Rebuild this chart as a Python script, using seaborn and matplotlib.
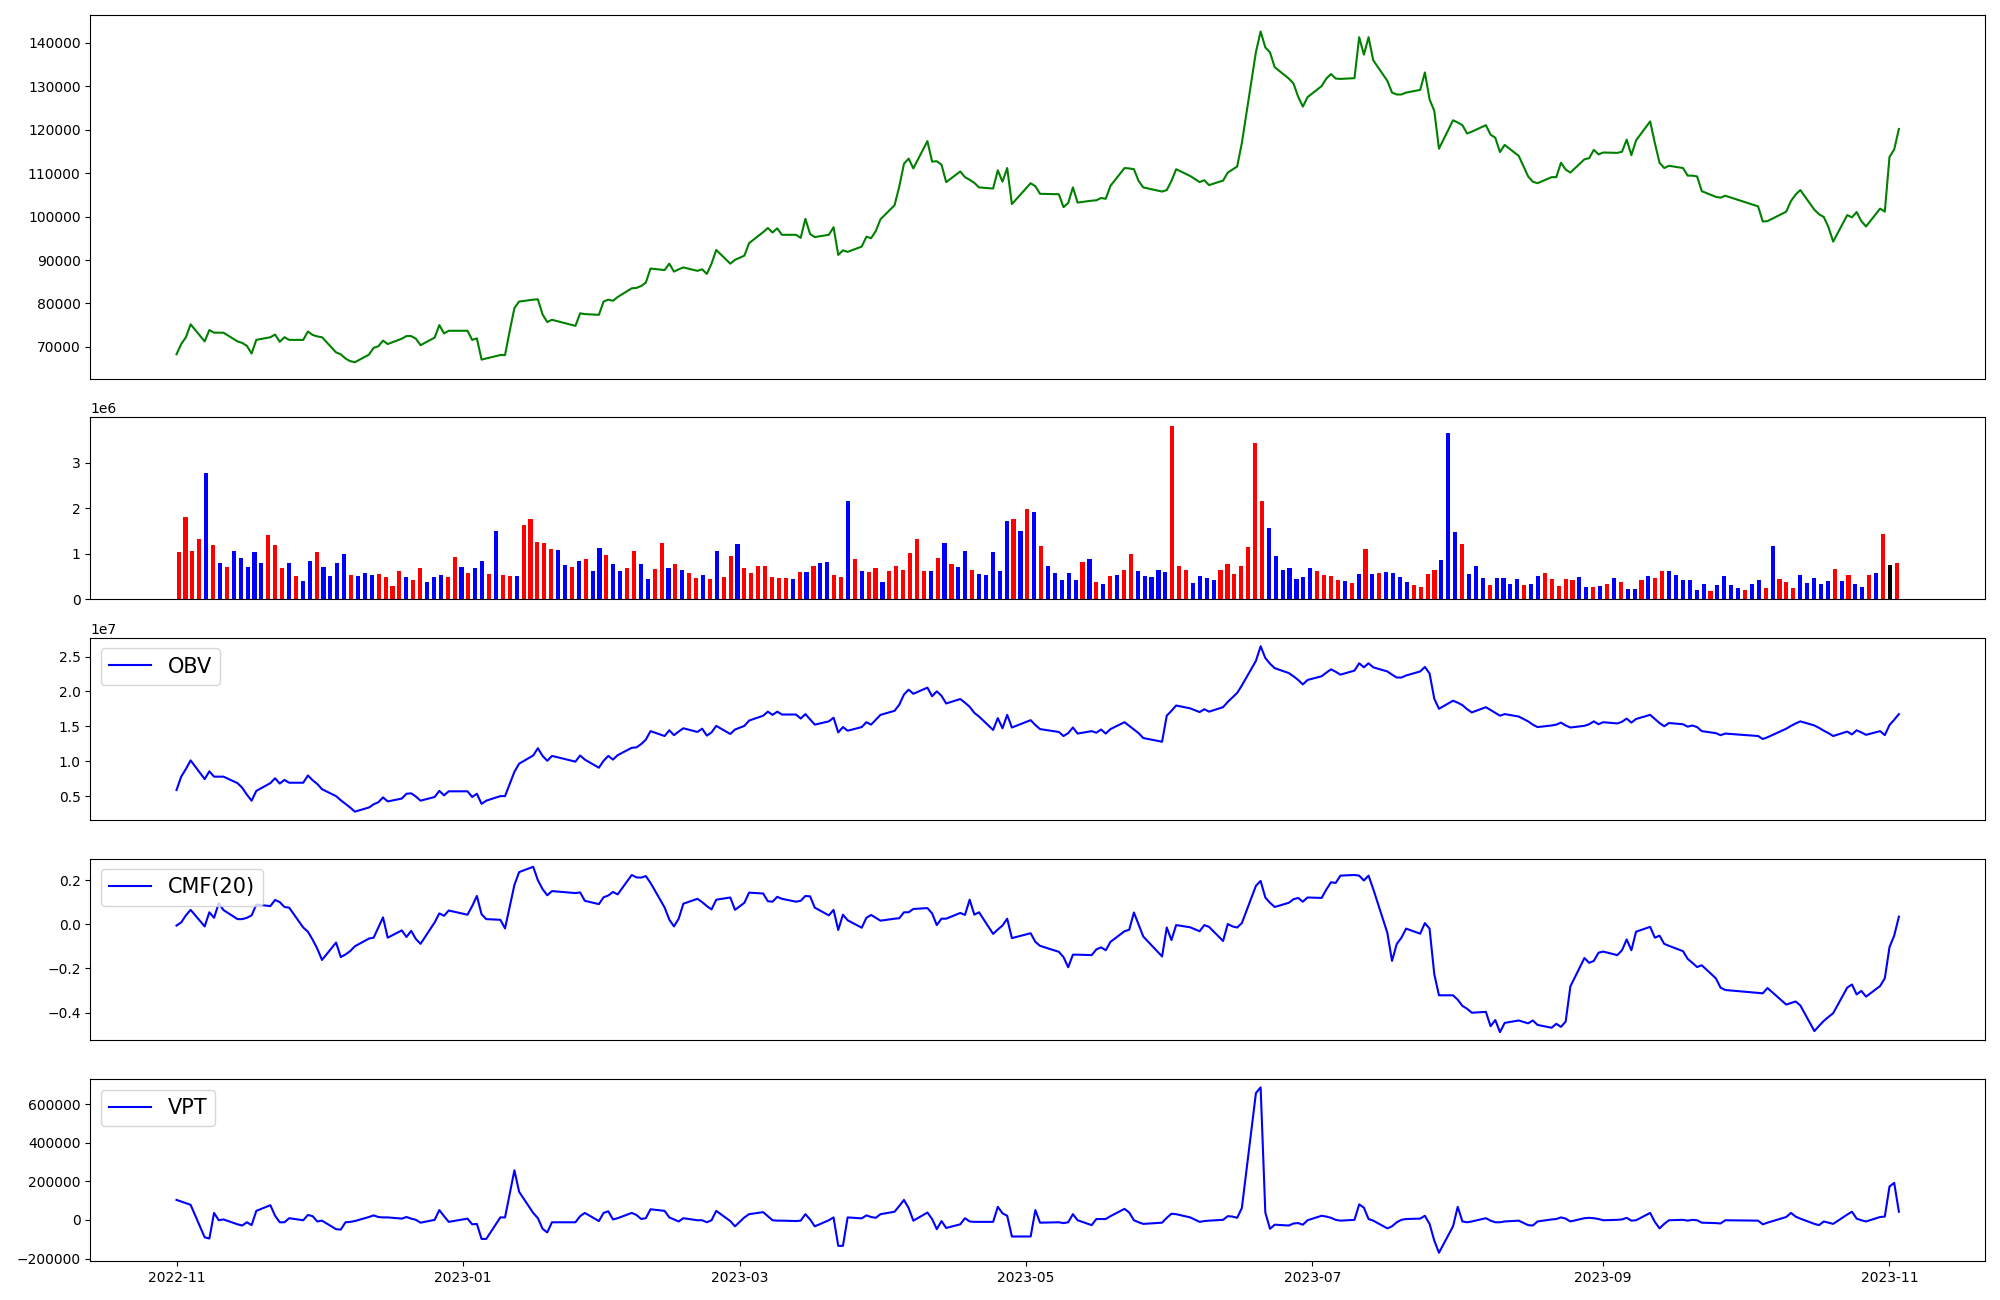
import numpy as np
import pandas as pd
import matplotlib
matplotlib.use("Agg")
import matplotlib.pyplot as plt
import seaborn as sns

# ---- trading calendar (KRX) ----
holidays = ["2022-12-30", "2023-01-23", "2023-01-24", "2023-03-01", "2023-05-01",
            "2023-05-05", "2023-05-29", "2023-06-06", "2023-08-15", "2023-09-28",
            "2023-09-29", "2023-10-02", "2023-10-03", "2023-10-09"]
dates = pd.bdate_range("2022-11-01", "2023-11-03", freq="C", holidays=holidays)

# ---- close price ----
price = [68300, 70650, 72220, 75190, 71260, 73880, 73270, 73270, 73270, 71260,
         70910, 70220, 68470, 71610, 72220, 72830, 71170, 72220, 71610, 71610,
         73530, 72750, 72400, 72220, 68730, 68290, 67330, 66720, 66460, 68210,
         69780, 70130, 71440, 70650, 71880, 72490, 72490, 71880, 70390, 72140,
         75020, 73100, 73710, 73710, 71610, 71960, 67070, 67330, 68120, 68120,
         73710, 78950, 80440, 80870, 80960, 77470, 75720, 76240, 74840, 77730,
         77550, 77380, 80440, 80870, 80610, 81480, 83490, 83580, 84020, 84800,
         88040, 87690, 89170, 87340, 87860, 88300, 87510, 87860, 86810, 89170,
         92320, 89170, 90050, 91010, 93890, 96420, 97380, 96340, 97300, 95810,
         95810, 95110, 99480, 95990, 95290, 95810, 97560, 91180, 92230, 91880,
         93100, 95370, 95030, 96680, 99390, 102620, 106900, 112150, 113370, 111100,
         117390, 112670, 112760, 111970, 107950, 110400, 109090, 108480, 107780, 106730,
         106470, 110660, 108040, 111190, 102890, 107690, 106990, 105250, 105160, 102190,
         103150, 106730, 103240, 103670, 103760, 104290, 104110, 107080, 111190, 111100,
         110920, 108220, 106730, 105770, 106120, 108220, 110920, 109350, 107950, 108390,
         107260, 108300, 110140, 110840, 111540, 116950, 137920, 142640, 138970, 137830,
         134420, 131800, 130670, 127610, 125340, 127520, 130060, 131800, 132850, 131800,
         131720, 131890, 141330, 137310, 141330, 136000, 131280, 128570, 128130, 128130,
         128570, 129180, 133200, 127000, 124380, 115640, 122190, 121670, 121060, 119140,
         119570, 121060, 118870, 118180, 114860, 116520, 113980, 109260, 108040, 107690,
         109090, 109090, 112410, 110840, 110140, 113200, 113460, 115380, 114330, 114770,
         114680, 114940, 117730, 114160, 117560, 121930, 116950, 112410, 111190, 111710,
         111190, 109440, 109440, 109260, 105860, 104550, 104370, 104810, 102360, 98870,
         98960, 101140, 103590, 105070, 106120, 101580, 100530, 99920, 97560, 94240,
         100350, 99830, 101050, 98960, 97730, 101840, 101140, 113720, 115470, 120190]

# ---- volume (millions) ----
volume_m = [1.041, 1.806, 1.057, 1.324, 2.771, 1.191, 0.800, 0.708, 1.057, 0.908,
            0.708, 1.041, 0.800, 1.407, 1.191, 0.691, 0.800, 0.508, 0.400, 0.841,
            1.041, 0.708, 0.508, 0.800, 0.991, 0.533, 0.508, 0.575, 0.533, 0.558,
            0.492, 0.292, 0.625, 0.492, 0.425, 0.691, 0.384, 0.492, 0.533, 0.492,
            0.925, 0.708, 0.575, 0.691, 0.841, 0.558, 1.499, 0.533, 0.517, 0.517,
            1.631, 1.765, 1.257, 1.232, 1.107, 1.082, 0.750, 0.708, 0.841, 0.883,
            0.625, 1.124, 0.974, 0.775, 0.625, 0.691, 1.057, 0.775, 0.450, 0.666,
            1.232, 0.691, 0.775, 0.641, 0.575, 0.467, 0.533, 0.450, 1.057, 0.492,
            0.949, 1.215, 0.691, 0.575, 0.733, 0.733, 0.492, 0.467, 0.467, 0.450,
            0.600, 0.600, 0.733, 0.800, 0.816, 0.533, 0.492, 2.155, 0.883, 0.625,
            0.600, 0.691, 0.384, 0.625, 0.733, 0.641, 1.016, 1.324, 0.625, 0.625,
            0.908, 1.232, 0.775, 0.708, 1.057, 0.641, 0.558, 0.533, 1.041, 0.625,
            1.715, 1.765, 1.498, 1.981, 1.914, 1.166, 0.733, 0.575, 0.425, 0.575,
            0.425, 0.816, 0.883, 0.384, 0.334, 0.508, 0.533, 0.641, 0.991, 0.625,
            0.508, 0.492, 0.641, 0.600, 3.802, 0.733, 0.641, 0.359, 0.508, 0.467,
            0.425, 0.641, 0.775, 0.558, 0.733, 1.149, 3.428, 2.155, 1.565, 0.949,
            0.641, 0.691, 0.450, 0.492, 0.691, 0.625, 0.533, 0.508, 0.425, 0.400,
            0.359, 0.558, 1.107, 0.558, 0.575, 0.600, 0.575, 0.492, 0.384, 0.317,
            0.267, 0.558, 0.641, 0.866, 3.645, 1.473, 1.215, 0.558, 0.733, 0.467,
            0.317, 0.467, 0.467, 0.334, 0.450, 0.317, 0.334, 0.508, 0.575, 0.450,
            0.292, 0.450, 0.425, 0.492, 0.267, 0.267, 0.292, 0.334, 0.467, 0.384,
            0.225, 0.225, 0.425, 0.508, 0.467, 0.625, 0.625, 0.533, 0.425, 0.425,
            0.209, 0.334, 0.184, 0.317, 0.508, 0.317, 0.250, 0.209, 0.334, 0.425,
            0.250, 1.166, 0.450, 0.384, 0.250, 0.533, 0.359, 0.467, 0.334, 0.400,
            0.666, 0.400, 0.533, 0.334, 0.267, 0.533, 0.575, 1.432, 0.750, 0.800]

# bar colour codes: R = up, B = down, K = unchanged
bar_codes = ("RRRRBRBRBB" "BBBRRRBRBB" "RBBBBRBBBR" "RRRBRRBBBR" "RBRBBRBRRB"
             "RRRRRBBRBR" "BBRBBRRBBR" "RBRBRRBRBR" "RBRRRRRRRB" "RBRBBRRBRB"
             "RRBRRRRRRB" "RBRBBRBBBB" "BRBRBRBBBB" "BRBRBRBRRB" "BBBBRRRBBB"
             "BRRRRRRRBB" "BBBBBRRRRB" "RBRBRBBBBR" "RRRBBBRBBB" "RBBBBRBBRR"
             "RRRBBRBRBR" "BBRBRRBBBB" "BBRBBBBRBB" "RBRRRBBBBB" "RBRBBRBRKR")

# ---- indicators ----
obv_e7 = [0.587, 0.779, 0.889, 1.012, 0.744, 0.855, 0.779, 0.779, 0.779, 0.686,
          0.620, 0.520, 0.435, 0.575, 0.686, 0.756, 0.680, 0.732, 0.692, 0.692,
          0.796, 0.727, 0.674, 0.599, 0.500, 0.441, 0.389, 0.337, 0.278, 0.337,
          0.383, 0.412, 0.482, 0.424, 0.465, 0.534, 0.540, 0.494, 0.435, 0.488,
          0.575, 0.511, 0.569, 0.569, 0.488, 0.534, 0.389, 0.435, 0.500, 0.500,
          0.674, 0.849, 0.965, 1.082, 1.186, 1.076, 1.006, 1.076, 0.994, 1.082,
          1.023, 0.907, 1.006, 1.076, 1.023, 1.087, 1.192, 1.198, 1.245, 1.309,
          1.431, 1.361, 1.443, 1.373, 1.425, 1.472, 1.419, 1.466, 1.367, 1.413,
          1.506, 1.390, 1.454, 1.506, 1.582, 1.652, 1.710, 1.664, 1.710, 1.669,
          1.669, 1.611, 1.675, 1.600, 1.524, 1.571, 1.623, 1.413, 1.489, 1.437,
          1.489, 1.559, 1.524, 1.594, 1.664, 1.722, 1.809, 1.955, 2.025, 1.966,
          2.054, 1.931, 2.001, 1.937, 1.827, 1.891, 1.838, 1.780, 1.693, 1.640,
          1.448, 1.617, 1.472, 1.664, 1.483, 1.588, 1.518, 1.460, 1.419, 1.361,
          1.402, 1.483, 1.396, 1.431, 1.408, 1.454, 1.396, 1.460, 1.559, 1.507,
          1.454, 1.402, 1.332, 1.279, 1.652, 1.722, 1.798, 1.757, 1.704, 1.745,
          1.710, 1.774, 1.850, 1.914, 1.978, 2.085, 2.438, 2.647, 2.479, 2.397,
          2.333, 2.263, 2.217, 2.164, 2.100, 2.164, 2.217, 2.269, 2.316, 2.281,
          2.240, 2.298, 2.403, 2.345, 2.403, 2.345, 2.286, 2.240, 2.199, 2.199,
          2.228, 2.286, 2.350, 2.257, 1.896, 1.751, 1.867, 1.838, 1.803, 1.745,
          1.699, 1.774, 1.734, 1.693, 1.652, 1.675, 1.640, 1.571, 1.524, 1.489,
          1.512, 1.524, 1.553, 1.512, 1.483, 1.507, 1.530, 1.571, 1.530, 1.559,
          1.541, 1.565, 1.611, 1.553, 1.605, 1.664, 1.605, 1.547, 1.501, 1.547,
          1.530, 1.495, 1.512, 1.489, 1.431, 1.402, 1.373, 1.396, 1.361, 1.318,
          1.343, 1.466, 1.506, 1.541, 1.571, 1.512, 1.477, 1.437, 1.402, 1.361,
          1.425, 1.384, 1.443, 1.413, 1.378, 1.431, 1.373, 1.518, 1.594, 1.675]

cmf20 = [-0.006, 0.008, 0.040, 0.065, -0.010, 0.054, 0.029, 0.095, 0.064, 0.023,
         0.023, 0.029, 0.040, 0.089, 0.082, 0.110, 0.100, 0.078, 0.075, -0.015,
         -0.034, -0.070, -0.111, -0.162, -0.083, -0.149, -0.137, -0.122, -0.100, -0.065,
         -0.061, -0.015, 0.031, -0.061, -0.028, -0.058, -0.030, -0.067, -0.089, 0.008,
         0.049, 0.038, 0.062, 0.043, 0.082, 0.128, 0.045, 0.023, 0.020, -0.019,
         0.080, 0.178, 0.236, 0.260, 0.199, 0.159, 0.131, 0.150, 0.141, 0.144,
         0.106, 0.091, 0.122, 0.130, 0.146, 0.135, 0.223, 0.212, 0.211, 0.218,
         0.187, 0.076, 0.021, -0.010, 0.025, 0.093, 0.115, 0.100, 0.082, 0.067,
         0.111, 0.121, 0.065, 0.097, 0.143, 0.139, 0.104, 0.102, 0.124, 0.115,
         0.102, 0.106, 0.128, 0.126, 0.075, 0.040, 0.065, -0.026, 0.043, 0.018,
         -0.016, 0.029, 0.042, 0.029, 0.016, 0.025, 0.027, 0.054, 0.054, 0.069,
         0.073, 0.049, -0.004, 0.025, 0.025, 0.051, 0.042, 0.111, 0.043, 0.054,
         -0.044, -0.024, -0.006, 0.025, -0.063, -0.041, -0.080, -0.098, -0.125, -0.149,
         -0.195, -0.138, -0.138, -0.140, -0.114, -0.105, -0.118, -0.080, -0.032, -0.025,
         0.053, -0.001, -0.056, -0.146, -0.015, -0.072, -0.004, -0.014, -0.032, -0.004,
         -0.012, -0.076, 0.001, -0.010, -0.015, 0.005, 0.174, 0.196, 0.121, 0.097,
         0.078, 0.097, 0.113, 0.119, 0.102, 0.121, 0.119, 0.157, 0.190, 0.187,
         0.220, 0.223, 0.220, 0.198, 0.220, 0.159, -0.039, -0.166, -0.090, -0.061,
         -0.020, -0.043, 0.005, -0.020, -0.226, -0.322, -0.322, -0.342, -0.370, -0.383,
         -0.401, -0.397, -0.462, -0.434, -0.489, -0.447, -0.436, -0.449, -0.436, -0.456,
         -0.469, -0.451, -0.465, -0.441, -0.282, -0.153, -0.175, -0.166, -0.129, -0.124,
         -0.140, -0.118, -0.069, -0.118, -0.034, -0.012, -0.061, -0.052, -0.089, -0.098,
         -0.122, -0.157, -0.175, -0.194, -0.186, -0.245, -0.287, -0.298, -0.311, -0.313,
         -0.289, -0.364, -0.357, -0.350, -0.368, -0.484, -0.460, -0.438, -0.420, -0.403,
         -0.287, -0.273, -0.318, -0.302, -0.328, -0.280, -0.245, -0.104, -0.052, 0.034]

vpt = [103700, 95300, 86900, 78400, -90000, -96200, 36300, -1600, 2600, -22600,
       -28900, -12100, -26900, 46900, 76300, 21600, -12100, -12100, 9000, -1600,
       25800, 19500, -7900, -3700, -47900, -50000, -12100, -10000, -5800, 15200,
       23600, 15200, 13100, 13100, 6800, 15200, 6800, 500, -14200, 500,
       51000, 19500, -10000, 6800, -22600, -20500, -98300, -98300, 13100, 13100,
       135200, 257100, 145600, 36300, 9000, -45800, -64700, -12100, -12100, 19500,
       36300, -5800, 36300, 44800, 2600, 9000, 36300, 25800, 4800, 9000,
       55300, 46900, 13100, 2600, -7900, 9000, -1600, -1600, -12100, -1600,
       46900, -5800, -33100, 13100, 29800, 40400, 19500, -1600, -3700, -3700,
       -5800, -3700, 29800, 2600, -33100, -1600, 13100, -134200, -134200, 13100,
       8000, 23600, 15200, 11000, 29800, 42500, 72000, 103700, 61600, -3700,
       38300, 4800, -47900, -5800, -41600, -22600, 9000, -7900, -10000, -10000,
       -10000, 67900, 34200, 21600, -85700, -85700, 51000, -14200, -12100, -16300,
       -12100, 29800, -1600, -26900, 4800, 4800, 4800, 19500, 57400, 38300,
       -1600, -12100, -20500, -14200, 11000, 32000, 29800, 13100, -10000, -5800,
       -3700, 500, 19500, 17400, 11000, 61600, 657000, 686500, 38300, -45800,
       -24700, -28900, -18400, -16300, -24700, -1600, 21600, 17400, 11000, 500,
       -3700, 500, 80500, 63600, 4800, -3700, -43700, -33100, -12100, 500,
       4800, 6800, 21600, -20500, -106700, -169800, -33100, 67900, -7900, -12100,
       -7900, 9000, -3700, -12100, -12100, -7900, -3700, -26900, -28900, -7900,
       2600, 4800, 13100, 6800, -7900, 9000, 11000, 9000, 4800, -1600,
       500, 2600, 11000, -3700, -1600, 36300, -10000, -43700, -20500, -1600,
       500, -3700, 500, -1600, -14200, -16300, -18400, -1600, -3700, -22600,
       -14200, 15200, 36300, 17400, 6800, -20500, -26900, -7900, -14200, -20500,
       27900, 42500, 6800, -1600, -7900, 15200, 17400, 173100, 192100, 42500]

code_colors = {"R": "red", "B": "blue", "K": "black"}

fig = plt.figure(figsize=(20, 13), dpi=100)
gs = fig.add_gridspec(5, 1, height_ratios=[2, 1, 1, 1, 1], left=0.0452, right=0.9925,
                      top=0.9885, bottom=0.030, hspace=0.177)
axes = [fig.add_subplot(gs[i]) for i in range(5)]

# price
sns.lineplot(x=dates, y=np.array(price, dtype=float), color="green", ax=axes[0])

# volume bars (evenly spaced)
idx = np.arange(len(volume_m))
axes[1].bar(idx, np.array(volume_m) * 1e6, width=0.6,
            color=[code_colors[c] for c in bar_codes])

# indicators
sns.lineplot(x=dates, y=np.array(obv_e7) * 1e7, color="blue", label="OBV", ax=axes[2])
sns.lineplot(x=dates, y=np.array(cmf20), color="blue", label="CMF(20)", ax=axes[3])
sns.lineplot(x=dates, y=np.array(vpt, dtype=float), color="blue", label="VPT", ax=axes[4])

for ax in axes:
    ax.set_xlabel("")
    ax.set_ylabel("")
for ax in axes[:4]:
    ax.tick_params(axis="x", which="both", bottom=False, labelbottom=False)
for ax in axes[2:]:
    ax.legend(loc="upper left", fontsize=15)

fig.savefig("out.png", dpi=100)
